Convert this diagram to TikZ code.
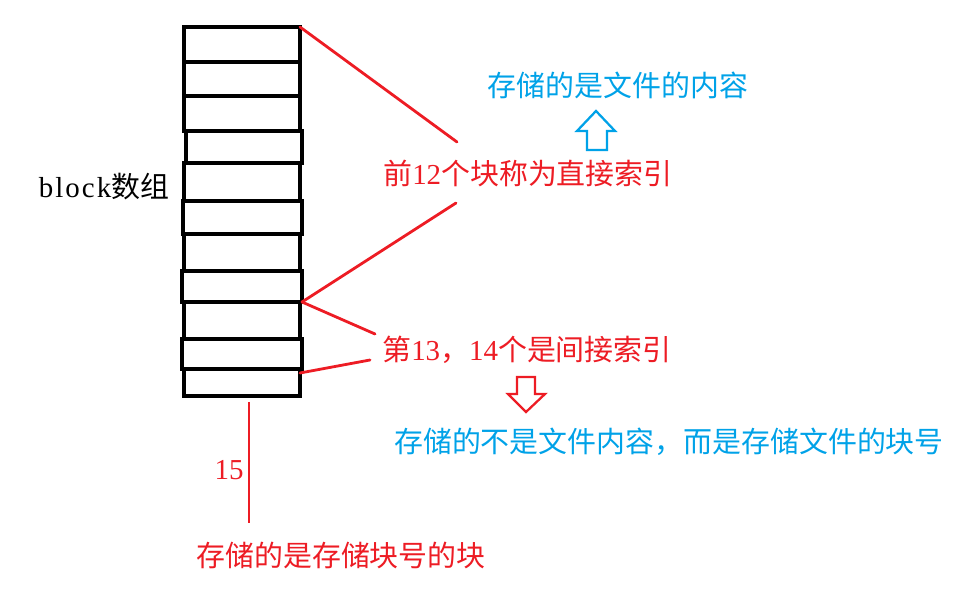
\documentclass[tikz,border=0pt]{standalone}
\usepackage{fontspec}
\setmainfont{Liberation Serif}
\newfontfamily\cjk{Noto Sans CJK SC}
\newfontfamily\widelatin[LetterSpace=7]{Liberation Serif}
\usetikzlibrary{positioning}

\definecolor{paintred}{RGB}{237,28,36}
\definecolor{paintblue}{RGB}{0,162,232}

\tikzset{
    cell/.style={draw=black, line width=2.8pt},
    pointer/.style={draw=paintred, line width=2.1pt, line cap=round},
    redtext/.style={text=paintred, inner sep=0pt},
    bluetext/.style={text=paintblue, inner sep=0pt},
    hollow/.style={line width=1.7pt, fill=white, line join=miter},
}

\begin{document}
\begin{tikzpicture}[x=0.75pt,y=-0.75pt]
            \useasboundingbox (0,0) rectangle (976,591);

            \begin{scope}[font=\fontsize{21.7}{26}\selectfont]

                % block array: top/bottom/left/right of each cell
                \foreach \t/\b/\l/\r [count=\i] in {27/62/184/300, 62/96/184/300, 96/131/184/300,
                        131/163/186/302, 163/201/184/300, 201/234/183/302, 234/271/184/300,
                        271/302/182/302, 302/339/184/300, 339/369/182/302, 369/396/184/300}{%
                        \draw [cell] (\l,\t) rectangle (\r,\b);
                        \coordinate (b\i-nw) at (\l,\t);
                        \coordinate (b\i-ne) at (\r,\t);
                        \coordinate (b\i-se) at (\r,\b);
                    }

                \node (arrayLabel) at (104,187) {{\widelatin block}{\cjk 数组}};

                \node [redtext] (directText) at (528,173) {{\cjk 前}12{\cjk 个块称为直接索引}};
                \node [bluetext] (contentText) at (618,85) {\cjk 存储的是文件的内容};
                \node [redtext] (indirectText) at (527,350) {{\cjk 第}13{\cjk ，}14{\cjk 个是间接索引}};
                \node [bluetext] (blockNoText) at (669,442) {\cjk 存储的不是文件内容，而是存储文件的块号};
                \node [redtext] (fifteen) at (229,470) {15};
                \node [redtext] (doubleText) at (341,555) {\cjk 存储的是存储块号的块};

                \coordinate (directTop) at (457,142);
                \coordinate (directBot) at (456,203);
                \coordinate (indirectTop) at (375,334);
                \coordinate (indirectBot) at (370,360);
                \coordinate (lineTop) at (249,402);
                \coordinate (lineBot) at (249,523);

                \draw [pointer] (b1-ne) -- (directTop);
                \draw [pointer] (b8-se) -- (directBot);
                \draw [pointer] (b8-se) -- (indirectTop);
                \draw [pointer] ([yshift=-3pt]b11-ne) -- (indirectBot);
                \draw [pointer, line cap=butt] (lineTop) -- (lineBot);

                % hollow arrows
                \draw [hollow, draw=paintblue] (596,111) -- (615,131) -- (607,131) -- (607,150)
                    -- (587,150) -- (587,131) -- (577,131) -- cycle;
                \draw [hollow, draw=paintred] (526,412) -- (545,394) -- (535,394) -- (535,377)
                    -- (517,377) -- (517,394) -- (508,394) -- cycle;

            \end{scope}
        \end{tikzpicture}
\end{document}
